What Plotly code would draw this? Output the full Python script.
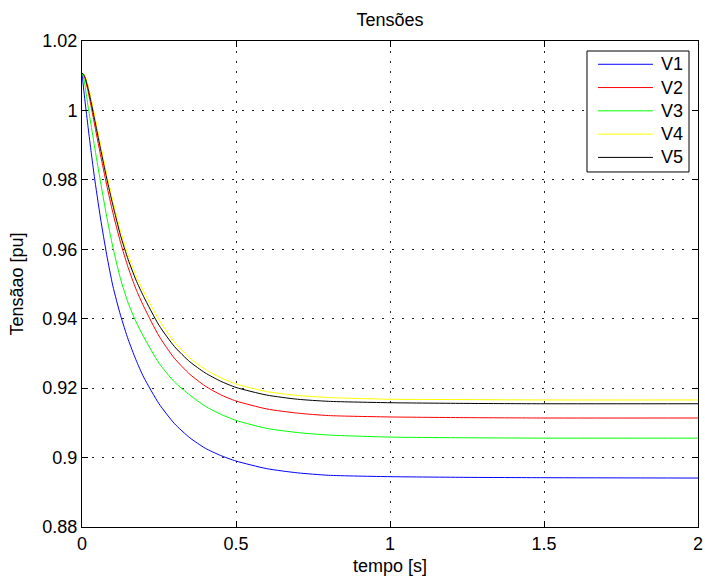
import plotly.graph_objects as go

# ---- data ----
t = [0, 0.005, 0.01, 0.02, 0.03, 0.04, 0.06, 0.08, 0.1, 0.125, 0.15, 0.175, 0.2,
     0.25, 0.3, 0.35, 0.4, 0.45, 0.5, 0.6, 0.7, 0.8, 1.0, 1.25, 1.5, 2.0]

v1 = [1.0107, 1.0065, 1.0025, 0.9950, 0.9878, 0.9810, 0.9690, 0.9585, 0.9495, 0.9410,
      0.9340, 0.9282, 0.9232, 0.9155, 0.9098, 0.9057, 0.9027, 0.9006, 0.8990, 0.8968,
      0.8956, 0.8949, 0.8945, 0.8943, 0.8942, 0.8941]
v2 = [1.0107, 1.0103, 1.0091, 1.0054, 1.0010, 0.9963, 0.9872, 0.9786, 0.9706, 0.9620,
      0.9547, 0.9486, 0.9436, 0.9350, 0.9286, 0.9240, 0.9206, 0.9181, 0.9163, 0.9140,
      0.9128, 0.9121, 0.9117, 0.9115, 0.9114, 0.9114]
v3 = [1.0107, 1.0095, 1.0070, 1.0010, 0.9955, 0.9900, 0.9795, 0.9695, 0.9607, 0.9515,
      0.9445, 0.9392, 0.9348, 0.9272, 0.9218, 0.9180, 0.9148, 0.9125, 0.9107, 0.9084,
      0.9072, 0.9065, 0.9059, 0.9057, 0.9056, 0.9056]
v4 = [1.0107, 1.0106, 1.0099, 1.0072, 1.0034, 0.9991, 0.9903, 0.9818, 0.9741, 0.9653,
      0.9583, 0.9525, 0.9478, 0.9397, 0.9333, 0.9287, 0.9254, 0.9230, 0.9212, 0.9190,
      0.9179, 0.9173, 0.9168, 0.9167, 0.9166, 0.9166]
v5 = [1.0107, 1.0104, 1.0095, 1.0063, 1.0022, 0.9978, 0.9890, 0.9805, 0.9728, 0.9640,
      0.9570, 0.9512, 0.9464, 0.9381, 0.9320, 0.9276, 0.9244, 0.9220, 0.9202, 0.9180,
      0.9168, 0.9162, 0.9158, 0.9156, 0.9155, 0.9155]

names = ["V1", "V2", "V3", "V4", "V5"]
series = [v1, v2, v3, v4, v5]
colors = ["#0000FF", "#FF0000", "#00FF00", "#FFFF00", "#000000"]

x_ticks = [0, 0.5, 1, 1.5, 2]
x_tick_labels = ["0", "0.5", "1", "1.5", "2"]
y_ticks = [0.88, 0.90, 0.92, 0.94, 0.96, 0.98, 1.00, 1.02]
y_tick_labels = ["0.88", "0.9", "0.92", "0.94", "0.96", "0.98", "1", "1.02"]

FONT = "Liberation Sans, Arial, Helvetica, sans-serif"
FS = 18

fig = go.Figure()
for name, vals, col in zip(names, series, colors):
    fig.add_trace(go.Scatter(x=t, y=vals, mode="lines", name=name,
                             line=dict(color=col, width=1, shape="spline", smoothing=0.6),
                             showlegend=False))

axis_common = dict(
    showline=True, linecolor="black", linewidth=1, mirror="ticks",
    ticks="inside", ticklen=6, tickcolor="black", tickwidth=1,
    showgrid=True, gridcolor="#222222", gridwidth=1, griddash="1.5px,8.5px",
    zeroline=False, automargin=False,
    tickfont=dict(family=FONT, size=FS, color="black"),
)

fig.update_xaxes(range=[0, 2], tickvals=x_ticks, ticktext=x_tick_labels,
                 ticklabelstandoff=0,
                 title=dict(text="tempo [s]", font=dict(family=FONT, size=FS, color="black"),
                            standoff=6),
                 **axis_common)
fig.update_yaxes(range=[0.88, 1.02], tickvals=y_ticks, ticktext=y_tick_labels,
                 title=dict(text="Tensãao [pu]", font=dict(family=FONT, size=FS, color="black"),
                            standoff=14),
                 **axis_common)

# ---- MATLAB-style legend box ----
lx0, lx1, ly0, ly1 = 0.8198, 0.9854, 0.7305, 0.9794
fig.add_shape(type="rect", xref="paper", yref="paper", x0=lx0, x1=lx1, y0=ly0, y1=ly1,
              line=dict(color="black", width=1), fillcolor="white", layer="above")
row_top, row_step = 0.9521, 0.0479
for i, (name, col) in enumerate(zip(names, colors)):
    yy = row_top - i * row_step
    fig.add_shape(type="line", xref="paper", yref="paper", x0=0.8377, x1=0.9269, y0=yy, y1=yy,
                  line=dict(color=col, width=1), layer="above")
    fig.add_annotation(xref="paper", yref="paper", x=0.9367, y=yy, text=name,
                       showarrow=False, xanchor="left", yanchor="middle",
                       font=dict(family=FONT, size=FS, color="black"))

fig.update_layout(
    width=705, height=583,
    margin=dict(l=82, r=7, t=41, b=56),
    paper_bgcolor="white", plot_bgcolor="white",
    title=dict(text="Tensões", x=0.5532, xanchor="center", y=0.9666, yanchor="middle",
               automargin=False,
               font=dict(family=FONT, size=FS, color="black")),
    font=dict(family=FONT, size=FS, color="black"),
)

fig.write_html("out.html", config={"displayModeBar": False},
               post_script="document.body.style.margin='0';document.body.style.padding='0';")
